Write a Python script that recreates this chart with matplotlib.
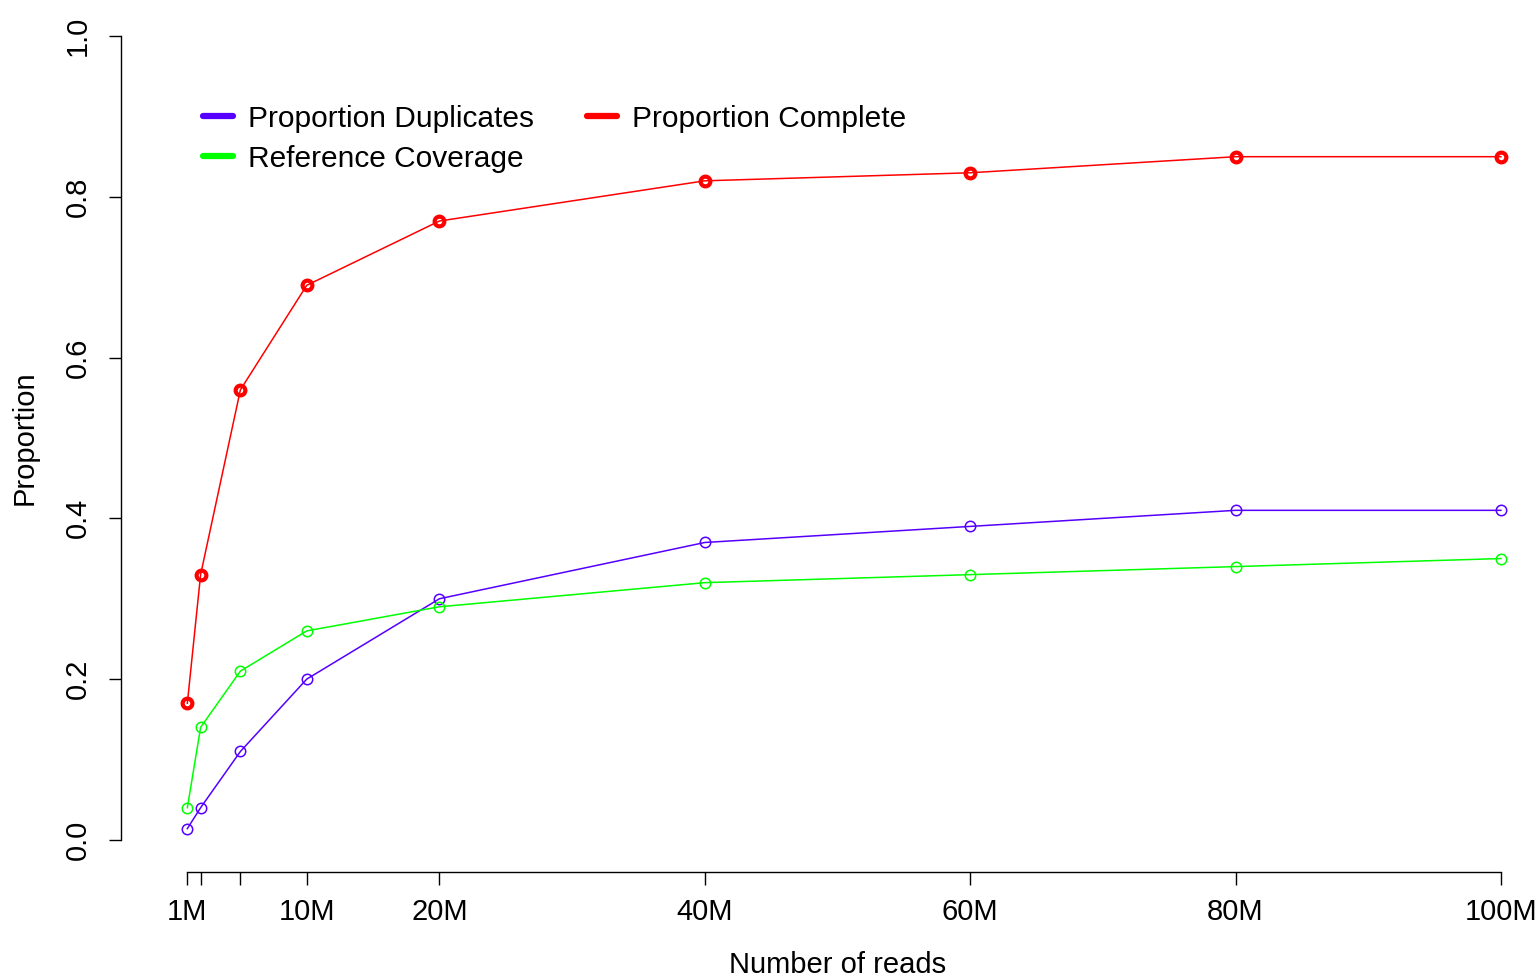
import numpy as np
import matplotlib.pyplot as plt

# read depth in millions
reads = [1, 2, 5, 10, 20, 40, 60, 80, 100]
prop_dup = [0.014, 0.04, 0.11, 0.20, 0.30, 0.37, 0.39, 0.41, 0.41]
ref_cov = [0.04, 0.14, 0.21, 0.26, 0.29, 0.32, 0.33, 0.34, 0.35]
prop_complete = [0.17, 0.33, 0.56, 0.69, 0.77, 0.82, 0.83, 0.85, 0.85]

xtick_pos = [1, 2, 5, 10, 20, 40, 60, 80, 100]
xtick_lab = ['1M', '', '', '10M', '20M', '40M', '60M', '80M', '100M']
ytick_pos = [0.0, 0.2, 0.4, 0.6, 0.8, 1.0]

col_dup = '#5500ff'
col_ref = '#00ff00'
col_comp = '#ff0000'

plt.rcParams['font.family'] = ['Liberation Sans', 'DejaVu Sans']
plt.rcParams['font.size'] = 21

W, H = 1540, 977
fig = plt.figure(figsize=(W / 100, H / 100), dpi=100)
# plot region in pixels: x 121..1554, y 4..872 (R style with 4% padding)
ax = fig.add_axes([121 / W, (H - 872) / H, (1554 - 121) / W, (872 - 4) / H])

ax.plot(reads, prop_dup, color=col_dup, lw=1.1, marker='o', ms=7.5,
        mfc='none', mec=col_dup, mew=1.1, label='Proportion Duplicates')
ax.plot(reads, ref_cov, color=col_ref, lw=1.1, marker='o', ms=7.5,
        mfc='none', mec=col_ref, mew=1.1, label='Reference Coverage')
ax.plot(reads, prop_complete, color=col_comp, lw=1.1, marker='o', ms=7,
        mfc='none', mec=col_comp, mew=3.0, label='Proportion Complete')

ax.set_xlim(-4, 104)
ax.set_ylim(-0.04, 1.04)

for s in ['top', 'right']:
    ax.spines[s].set_visible(False)
ax.spines['left'].set_bounds(0, 1)
ax.spines['bottom'].set_bounds(1, 100)
ax.spines['left'].set_linewidth(1.0)
ax.spines['bottom'].set_linewidth(1.0)

ax.set_xticks(xtick_pos)
ax.set_xticklabels(xtick_lab)
ax.set_yticks(ytick_pos)
ax.set_yticklabels(['0.0', '0.2', '0.4', '0.6', '0.8', '1.0'], rotation=90, va='center')
ax.tick_params(axis='both', direction='out', length=9, width=1.0)
ax.tick_params(axis='x', pad=10)
ax.tick_params(axis='y', pad=12)

ax.set_xlabel('Number of reads', labelpad=18)
ax.set_ylabel('Proportion', labelpad=18)

leg = ax.legend(ncol=2, loc='upper left', bbox_to_anchor=((188 - 121) / 1433, (872 - 90) / 868),
                frameon=False, handlelength=1.0, handletextpad=0.5, columnspacing=1.8,
                labelspacing=0.4, borderpad=0, prop={'size': 21.5})
for h in leg.legend_handles:
    h.set_linewidth(4.5)
    h.set_marker('')
    h.set_solid_capstyle('round')

fig.savefig('out.png', dpi=100)
